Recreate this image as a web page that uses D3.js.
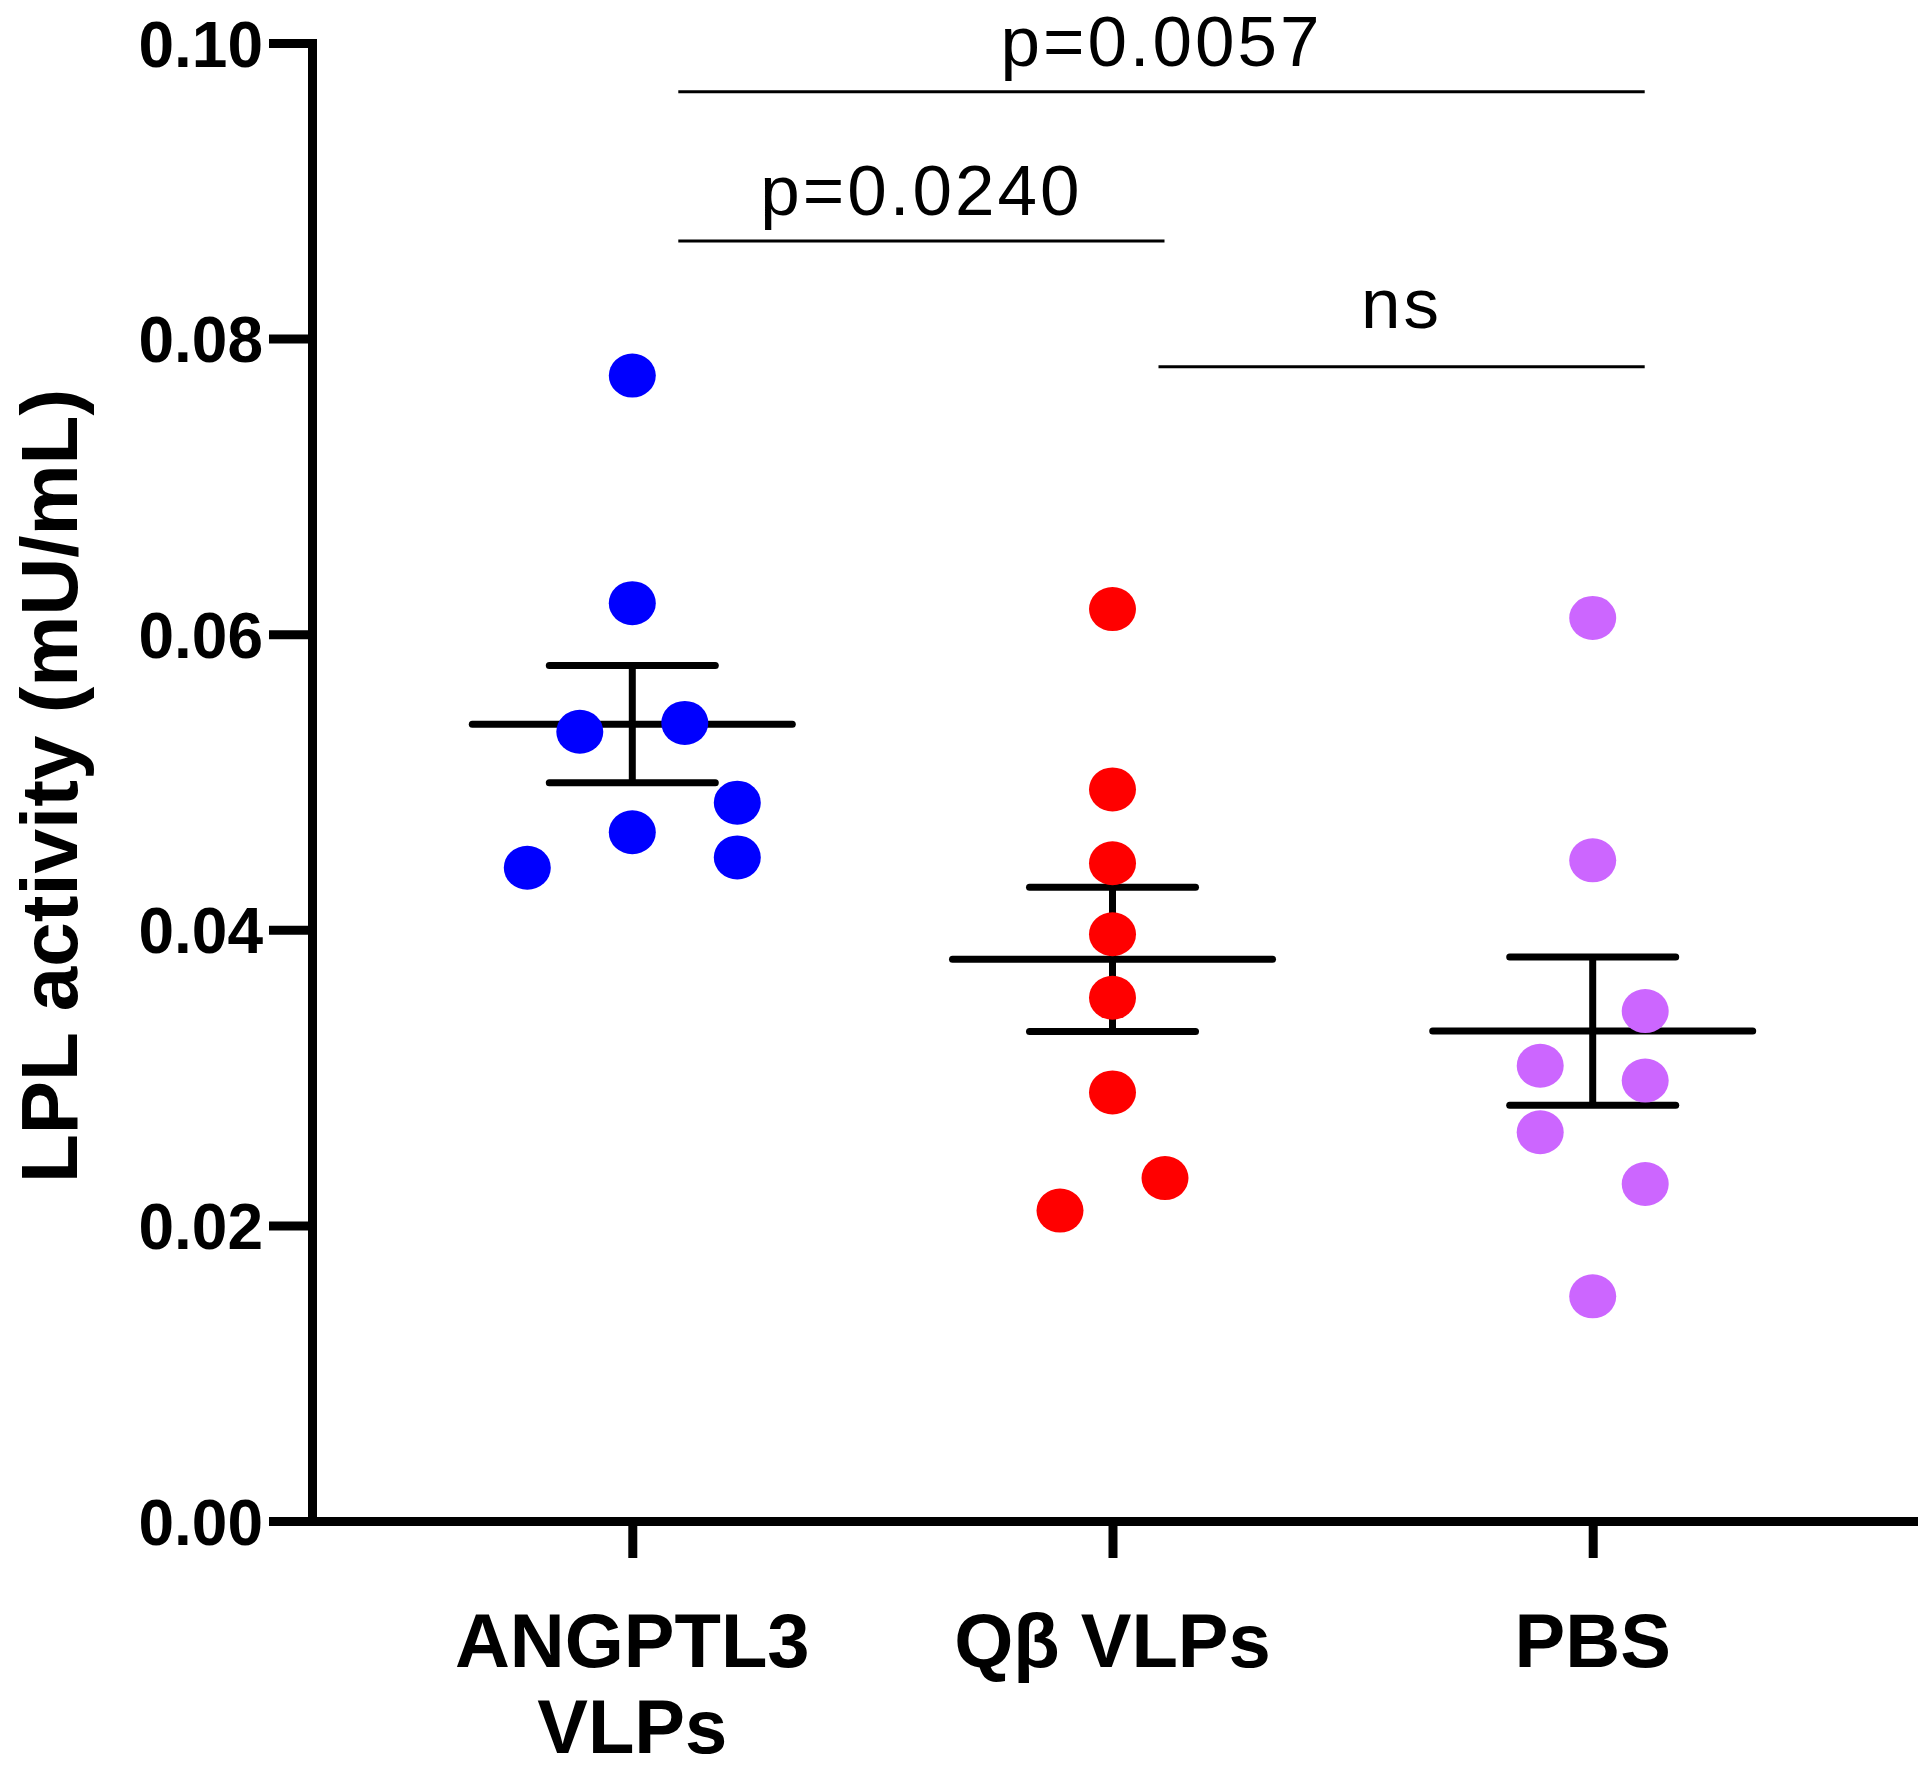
<!DOCTYPE html>
<html>
<head>
<meta charset="utf-8">
<script src="https://cdn.jsdelivr.net/npm/d3@7"></script>
<style>
  body { margin: 0; background: #fff; }
  svg { display: block; }
</style>
</head>
<body>
<div id="chart"></div>
<script>
// groups on the x axis
var categories = ["ANGPTL3 VLPs", "Qβ VLPs", "PBS"];
var categoryLines = [["ANGPTL3", "VLPs"], ["Qβ VLPs"], ["PBS"]];
var groupColors = ["#0000ff", "#ff0000", "#cc66ff"];

// LPL activity (mU/mL), one value per animal
var angptl3Values = [0.0775, 0.0621, 0.0540, 0.0534, 0.0486, 0.0466, 0.0449, 0.0442];
var qbValues = [0.0617, 0.0495, 0.0445, 0.0397, 0.0354, 0.0290, 0.0232, 0.0210];
var pbsValues = [0.0611, 0.0447, 0.0345, 0.0308, 0.0298, 0.0263, 0.0228, 0.0152];

// scatter column of each point (as laid out in the figure)
var angptl3Cols = [0, 0, 1, -1, 2, 0, 2, -2];
var qbCols = [0, 0, 0, 0, 0, 0, 1, -1];
var pbsCols = [0, 0, 1, -1, 1, -1, 1, 0];

var yTicks = [0, 0.02, 0.04, 0.06, 0.08, 0.10];

// comparison brackets
var sigLabels = ["p=0.0057", "p=0.0240", "ns"];
var sigFrom = [0, 0, 1];
var sigTo = [2, 1, 2];
var sigLevel = [0.0967, 0.0866, 0.0781];

var W = 1920, H = 1772;
var margin = { top: 43, right: 7, bottom: 251, left: 312 };

var svg = d3.select("#chart").append("svg")
  .attr("width", W)
  .attr("height", H);

var x = d3.scalePoint()
  .domain(categories)
  .range([margin.left, W - margin.right])
  .padding(0.667);

var y = d3.scaleLinear()
  .domain([0, 0.1])
  .range([H - margin.bottom, margin.top]);

var colStep = 52.5;
var xCol = d3.scaleLinear().domain([-1, 1]).range([-colStep, colStep]);

var groups = [
  { name: categories[0], values: angptl3Values, cols: angptl3Cols, color: groupColors[0] },
  { name: categories[1], values: qbValues, cols: qbCols, color: groupColors[1] },
  { name: categories[2], values: pbsValues, cols: pbsCols, color: groupColors[2] }
];

groups.forEach(function (g) {
  g.mean = d3.mean(g.values);
  g.sem = d3.deviation(g.values) / Math.sqrt(g.values.length);
});

// y axis
var yAxis = d3.axisLeft(y)
  .tickValues(yTicks)
  .tickFormat(d3.format(".2f"))
  .tickSize(43)
  .tickSizeOuter(0)
  .tickPadding(6);

var gy = svg.append("g")
  .attr("transform", "translate(" + margin.left + ",0)")
  .call(yAxis);

gy.select(".domain").attr("stroke-width", 9).attr("stroke-linecap", "square");
gy.selectAll(".tick line").attr("stroke-width", 9);
gy.selectAll(".tick text")
  .attr("fill", "#000")
  .style("font-family", "'Liberation Sans', Arial, sans-serif")
  .style("font-weight", "bold")
  .style("font-size", "64px")
  .attr("dy", "0.36em");

// x axis
var xAxis = d3.axisBottom(x)
  .tickSize(37)
  .tickSizeOuter(0)
  .tickFormat("");

var gx = svg.append("g")
  .attr("transform", "translate(0," + y(0) + ")")
  .call(xAxis);

gx.select(".domain").attr("stroke-width", 9).attr("stroke-linecap", "square");
gx.selectAll(".tick line").attr("stroke-width", 9);

// category labels
var labels = svg.append("g")
  .style("font-family", "'Liberation Sans', Arial, sans-serif")
  .style("font-weight", "bold")
  .style("font-size", "76px")
  .attr("text-anchor", "middle");

categories.forEach(function (c, i) {
  var t = labels.append("text")
    .attr("x", x(c))
    .attr("y", 1667);
  categoryLines[i].forEach(function (line, j) {
    t.append("tspan")
      .attr("x", x(c))
      .attr("dy", j === 0 ? 0 : 86)
      .text(line);
  });
});

// y axis title
svg.append("text")
  .attr("transform", "translate(77," + 786 + ") rotate(-90)")
  .attr("text-anchor", "middle")
  .style("font-family", "'Liberation Sans', Arial, sans-serif")
  .style("font-weight", "bold")
  .style("font-size", "80px")
  .text("LPL activity (mU/mL)");

// mean +/- SEM
var bars = svg.append("g")
  .attr("stroke", "#000")
  .attr("stroke-width", 7)
  .attr("stroke-linecap", "round");

groups.forEach(function (g) {
  var cx = x(g.name);
  bars.append("line")
    .attr("x1", cx - 160).attr("x2", cx + 160)
    .attr("y1", y(g.mean)).attr("y2", y(g.mean));
  bars.append("line")
    .attr("x1", cx).attr("x2", cx)
    .attr("y1", y(g.mean + g.sem)).attr("y2", y(g.mean - g.sem))
    .attr("stroke-linecap", "butt");
  [g.mean + g.sem, g.mean - g.sem].forEach(function (v) {
    bars.append("line")
      .attr("x1", cx - 83).attr("x2", cx + 83)
      .attr("y1", y(v)).attr("y2", y(v));
  });
});

// points
groups.forEach(function (g) {
  svg.append("g")
    .selectAll("ellipse")
    .data(g.values)
    .enter()
    .append("ellipse")
    .attr("cx", function (d, i) { return x(g.name) + xCol(g.cols[i]); })
    .attr("cy", function (d) { return y(d); })
    .attr("rx", 23.5)
    .attr("ry", 22)
    .attr("fill", g.color);
});

// significance brackets
var sig = svg.append("g");
sigLabels.forEach(function (label, i) {
  var x1 = x(categories[sigFrom[i]]) + 46;
  var x2 = x(categories[sigTo[i]]) + 52;
  var yy = y(sigLevel[i]);
  sig.append("line")
    .attr("x1", x1).attr("x2", x2)
    .attr("y1", yy).attr("y2", yy)
    .attr("stroke", "#000")
    .attr("stroke-width", 3);
  sig.append("text")
    .attr("x", (x1 + x2) / 2)
    .attr("y", yy - (label === "ns" ? 39 : 26))
    .attr("text-anchor", "middle")
    .style("font-family", "'Liberation Sans', Arial, sans-serif")
    .style("font-size", "71px")
    .style("letter-spacing", "3px")
    .text(label);
});
</script>
</body>
</html>
